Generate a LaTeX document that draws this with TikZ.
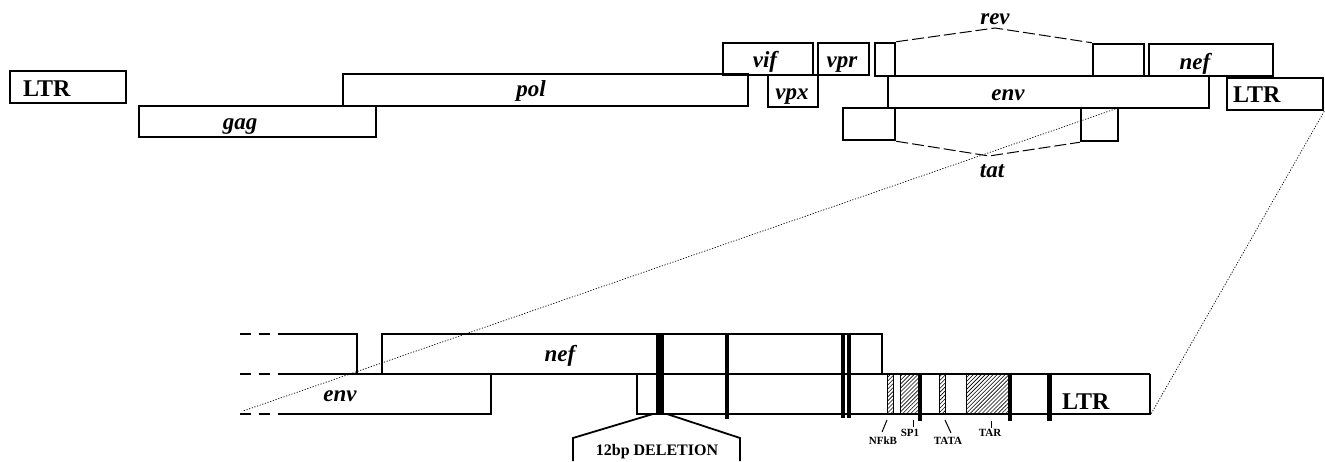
\documentclass[tikz,border=0pt]{standalone}
\usepackage{fontspec}
\setmainfont{Liberation Serif}
\usetikzlibrary{fit,patterns.meta}

\tikzset{
  gene/.style={draw, line width=2.5pt, inner sep=0pt, fit={#1}},
  gname/.style={anchor=base, inner sep=0pt, font=\fontsize{23}{23}\selectfont\bfseries\itshape},
  ltrname/.style={anchor=base west, inner sep=0pt, font=\fontsize{24}{24}\selectfont\bfseries},
  site/.style={anchor=base, inner sep=0pt, font=\fontsize{11}{11}\selectfont\bfseries},
  splice/.style={line width=1pt, dash pattern=on 12pt off 4pt},
  zoomline/.style={line width=0.7pt, dash pattern=on 1.2pt off 1.6pt},
  seg/.style={line width=2.3pt},
  stub/.style={line width=2.3pt, dash pattern=on 11pt off 8pt},
  bar/.style={line width=#1},
  hatch/.style={draw, line width=0.8pt, pattern={Lines[angle=45,distance=2.8pt,line width=0.6pt]}},
  tick/.style={line width=1pt},
}

\begin{document}
\begin{tikzpicture}[x=1pt,y=-1pt]
\useasboundingbox (0,0) rectangle (1325,461);

% ---------------- genome map ----------------
\node[gene={(10,71) (126,103)}]   (ltrL) {};
\node[gene={(139,106) (376,137)}] (gag)  {};
\node[gene={(343,74) (748,106)}]  (pol)  {};
\node[gene={(723,43) (813,75)}]   (vif)  {};
\node[gene={(768,75) (818,107)}]  (vpx)  {};
\node[gene={(818,43) (869,75)}]   (vpr)  {};
\node[gene={(875,43) (895,76)}]   (rev1) {};
\node[gene={(888,76) (1209,108)}] (env)  {};
\node[gene={(843,108) (895,140)}] (tat1) {};
\node[gene={(1081,108) (1118,141)}] (tat2) {};
\node[gene={(1093,44) (1144,76)}] (rev2) {};
\node[gene={(1149,44) (1273,76)}] (nef)  {};
\node[gene={(1227,78) (1323,110)}] (ltrR) {};

\node[ltrname] (tLTRL) at (23,96)  {LTR};
\node[ltrname] (tLTRR) at (1233,102) {LTR};
\node[gname] (tgag) at (240,129) {gag};
\node[gname] (tpol) at (531,96)  {pol};
\node[gname] (tvif) at (765,67)  {vif};
\node[gname] (tvpx) at (792,99)  {vpx};
\node[gname] (tvpr) at (842,67)  {vpr};
\node[gname] (tenv) at (1008,100) {env};
\node[gname] (tnef) at (1195,69) {nef};
\node[gname] (trev) at (995,24)  {rev};
\node[gname] (ttat) at (992,177) {tat};

% splice junctions
\coordinate (revapex) at (995,28);
\coordinate (tatapex) at (989,156);
\draw[splice] (rev1.north east) -- (revapex) -- (rev2.north west);
\draw[splice] (tat1.south east) -- (tatapex) -- (tat2.south west);

% ---------------- enlarged 3' region ----------------
\def\yT{334}\def\yM{374}\def\yB{414}
\foreach \y in {\yT,\yM,\yB} \draw[stub] (240,\y) -- (270,\y);

\draw[seg] (278,\yT) -- (357,\yT) -- (357,\yM);
\draw[seg] (278,\yM) -- (1150,\yM);
\draw[seg] (278,\yB) -- (491,\yB) -- (491,\yM);
\draw[seg] (382,\yM) -- (382,\yT) -- (882,\yT) -- (882,\yM);
\draw[seg] (637,\yM) -- (637,\yB) -- (1150,\yB) -- (1150,\yM);

% promoter elements
\node[hatch, inner sep=0pt, fit={(887,\yM) (893,\yB)}] (nfkb) {};
\node[hatch, inner sep=0pt, fit={(900,\yM) (918,\yB)}] (sp1)  {};
\node[hatch, inner sep=0pt, fit={(939,\yM) (945,\yB)}] (tata) {};
\node[hatch, inner sep=0pt, fit={(966,\yM) (1008,\yB)}] (tar) {};

% boundary bars
\draw[bar=7.5pt] (660,\yT) -- (660,\yB);
\draw[bar=4.5pt] (727,\yT) -- (727,419);
\draw[bar=4.5pt] (843,\yT) -- (843,418);
\draw[bar=4.5pt] (849,\yT) -- (849,418);
\draw[bar=4.5pt] (920,\yM) -- (920,421);
\draw[bar=4.5pt] (1010,\yM) -- (1010,421);
\draw[bar=4.5pt] (1049.5,\yM) -- (1049.5,421);

\node[ltrname] (bLTR) at (1062,409) {LTR};
\node[gname] (bnef) at (560,361) {nef};
\node[gname] (benv) at (340,401) {env};

% site labels
\coordinate (nfkbT) at (882,432);
\coordinate (sp1T)  at (913,427);
\coordinate (tataT) at (951,433);
\coordinate (tarT)  at (991,428);
\draw[tick] (887,420) -- (nfkbT);
\draw[tick] (913,420) -- (sp1T);
\draw[tick] (945,420) -- (tataT);
\draw[tick] (991,421) -- (tarT);
\node[site] (lnfkb) at (883,444) {NFkB};
\node[site] (lsp1)  at (910,436) {SP1};
\node[site] (ltata) at (948,444) {TATA};
\node[site] (ltar)  at (990,436) {TAR};

% deletion callout
\coordinate (delL) at (653,\yB);
\coordinate (delR) at (667,\yB);
\draw[line width=1.8pt] (delL) -- (573,438) -- (573,461);
\draw[line width=1.8pt] (delR) -- (740,438) -- (740,461);
\node[anchor=base, inner sep=0pt, font=\fontsize{16}{16}\selectfont\bfseries] (del) at (657,455) {12bp DELETION};

% zoom guides
\draw[zoomline] (ltrR.south east) -- (1151,\yB);
\coordinate (envcut) at (1118,108);
\draw[zoomline] (envcut) -- (243,411);
\end{tikzpicture}
\end{document}
